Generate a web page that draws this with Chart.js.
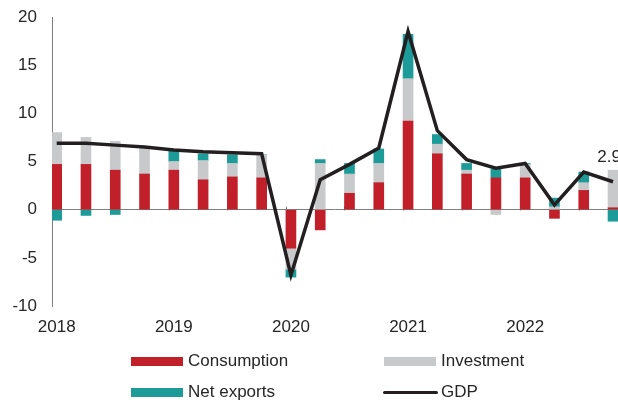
<!DOCTYPE html>
<html>
<head>
<meta charset="utf-8">
<script src="https://cdn.jsdelivr.net/npm/chart.js@4"></script>
<style>
  body { margin: 0; background: #fff; }
  #wrap { position: relative; width: 618px; height: 404px; overflow: hidden; }
  #legend { position: absolute; left: 0; top: 0; width: 618px; height: 404px; pointer-events: none;
            font: 17px "Liberation Sans", Arial, sans-serif; color: #262626; }
  .item { position: absolute; display: flex; align-items: center; height: 20px; white-space: nowrap; }
  .box { width: 52px; height: 9px; margin-right: 5px; }
  .line { width: 55px; height: 3px; border-radius: 2px; margin-right: 3px; }
</style>
</head>
<body>
<div id="wrap">
  <canvas id="chart" width="618" height="404"></canvas>
  <div id="legend"></div>
</div>
<script>
// quarterly data, 2018Q1 - 2022Q4
const quarters = ["2018Q1","2018Q2","2018Q3","2018Q4","2019Q1","2019Q2","2019Q3","2019Q4",
  "2020Q1","2020Q2","2020Q3","2020Q4","2021Q1","2021Q2","2021Q3","2021Q4",
  "2022Q1","2022Q2","2022Q3","2022Q4"];
const consumption = [4.7, 4.7, 4.1, 3.7, 4.1, 3.1, 3.4, 3.3, -4.0, -2.1, 1.7, 2.8, 9.2, 5.8, 3.7, 3.3, 3.3, -0.9, 2.0, 0.2];
const investment  = [3.3, 2.8, 3.0, 2.6, 0.9, 2.0, 1.4, 2.4, -2.2, 4.8, 2.0, 2.0, 4.4, 1.0, 0.4, -0.5, 1.4, 0.3, 0.8, 3.9];
const netExports  = [-1.1, -0.6, -0.5, 0, 1.1, 0.7, 0.9, 0, -0.8, 0.4, 1.1, 1.5, 4.6, 1.0, 0.7, 0.9, 0.1, 0.9, 1.1, -1.2];
const gdp         = [6.9, 6.9, 6.7, 6.5, 6.2, 6.0, 5.9, 5.8, -6.8, 3.1, 4.7, 6.4, 18.5, 8.2, 5.2, 4.3, 4.8, 0.5, 3.9, 2.9];
const years = ["2018", "2019", "2020", "2021", "2022"];

const textColor = '#262626';
const axisColor = '#7f7f7f';
const font = { family: '"Liberation Sans", Arial, sans-serif', size: 17 };

const pts = arr => arr.map((v, i) => ({ x: i, y: v }));
const yearIdx = years.map(y => quarters.indexOf(y + "Q1"));

const ctx = document.getElementById("chart");

const extras = {
  id: 'extras',
  beforeDatasetsDraw(chart) {
    const { ctx, scales: { x, y } } = chart;
    const y0 = Math.round(y.getPixelForValue(0)) + 0.5;
    ctx.save();
    ctx.strokeStyle = axisColor;
    ctx.lineWidth = 1;
    ctx.beginPath();
    for (let i = 2; i < quarters.length; i += 2) {
      const px = Math.round(x.getPixelForValue(i) - 5) + 0.5;
      ctx.moveTo(px, y0);
      ctx.lineTo(px, y0 - 4);
    }
    ctx.stroke();
    ctx.restore();
  },
  afterDatasetsDraw(chart) {
    const { ctx, scales: { x, y } } = chart;
    const last = gdp.length - 1;
    ctx.save();
    ctx.fillStyle = textColor;
    ctx.font = '17px "Liberation Sans", Arial, sans-serif';
    ctx.textAlign = 'center';
    ctx.textBaseline = 'middle';
    ctx.fillText(gdp[last].toFixed(1), x.getPixelForValue(last) - 4, y.getPixelForValue(gdp[last]) - 24);
    ctx.restore();
  }
};

const chart = new Chart(ctx, {
  type: "bar",
  data: {
    datasets: [
      {
        label: "GDP",
        type: "line",
        data: pts(gdp),
        borderColor: '#231f20',
        borderWidth: 3.5,
        pointRadius: 0,
        fill: false,
        stack: 'gdp',
        order: 0
      },
      {
        label: "Consumption",
        data: pts(consumption),
        backgroundColor: '#c1202b',
        stack: 'parts',
        order: 1
      },
      {
        label: "Investment",
        data: pts(investment),
        backgroundColor: '#c8c9cb',
        stack: 'parts',
        order: 1
      },
      {
        label: "Net exports",
        data: pts(netExports),
        backgroundColor: '#1c9b98',
        stack: 'parts',
        order: 1
      }
    ]
  },
  options: {
    responsive: false,
    animation: false,
    events: [],
    barThickness: 10,
    layout: { padding: { top: 17, right: 0, bottom: 0, left: 0 } },
    plugins: { legend: { display: false }, tooltip: { enabled: false } },
    scales: {
      x: {
        type: 'linear',
        offset: false,
        min: -0.16,
        max: 19.17,
        stacked: true,
        grid: { display: false, drawTicks: false },
        border: { display: false },
        afterBuildTicks: s => { s.ticks = yearIdx.map(v => ({ value: v })); },
        afterFit: s => { s.height = 98; },
        ticks: {
          padding: 11,
          color: textColor,
          font: font,
          maxRotation: 0,
          autoSkip: false,
          callback: (v, i) => years[i]
        }
      },
      y: {
        min: -10,
        max: 20,
        stacked: true,
        afterFit: s => { s.width = 52; s.paddingTop = 0; s.paddingBottom = 0; },
        grid: {
          drawTicks: false,
          color: c => c.tick.value === 0 ? axisColor : 'rgba(0,0,0,0)'
        },
        border: { display: true, color: axisColor, width: 1 },
        ticks: { stepSize: 5, padding: 15, color: textColor, font: font }
      }
    }
  },
  plugins: [extras]
});

// legend in two columns: Consumption / Investment, Net exports / GDP
const legendSpots = [
  { label: "Consumption", left: 131, top: 351 },
  { label: "Investment", left: 384, top: 351 },
  { label: "Net exports", left: 131, top: 382 },
  { label: "GDP", left: 383, top: 382 }
];
const legend = document.getElementById("legend");
legendSpots.forEach(spot => {
  const ds = chart.data.datasets.find(d => d.label === spot.label);
  const item = document.createElement("div");
  item.className = "item";
  item.style.left = spot.left + "px";
  item.style.top = spot.top + "px";
  const sw = document.createElement("span");
  if (ds.type === "line") {
    sw.className = "line";
    sw.style.background = ds.borderColor;
  } else {
    sw.className = "box";
    sw.style.background = ds.backgroundColor;
  }
  const txt = document.createElement("span");
  txt.textContent = ds.label;
  item.appendChild(sw);
  item.appendChild(txt);
  legend.appendChild(item);
});
</script>
</body>
</html>
